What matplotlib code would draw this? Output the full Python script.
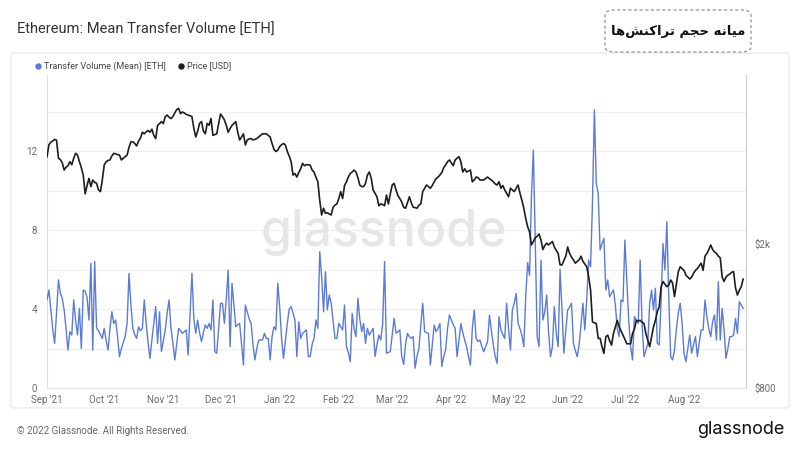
import matplotlib
matplotlib.use("Agg")
import matplotlib.pyplot as plt
from matplotlib.patches import FancyBboxPatch
from matplotlib.lines import Line2D
import pandas as pd

# ---------------- data ----------------
start_date = "2021-09-01"

transfer_volume_mean = [
    4.46, 4.96, 4.0, 3.0, 2.26, 3.8, 5.47, 4.8, 4.54, 3.95,
    3.0, 1.92, 2.85, 2.68, 4.46, 3.4, 2.68, 4.03, 2.0, 4.96,
    4.9, 4.6, 3.44, 6.31, 1.92, 6.4, 3.02, 2.9, 2.7, 2.51,
    3.02, 2.4, 1.92, 3.0, 3.86, 3.27, 3.44, 2.6, 1.59, 2.0,
    2.3, 2.6, 3.27, 5.8, 4.2, 3.02, 2.7, 2.51, 3.1, 2.9,
    3.02, 4.46, 3.27, 2.3, 1.5, 2.43, 3.3, 4.12, 2.26, 3.86,
    1.84, 2.4, 2.94, 3.8, 4.46, 3.02, 2.3, 1.42, 2.2, 3.02,
    2.9, 2.77, 2.85, 2.94, 1.67, 3.8, 5.81, 3.5, 2.77, 3.44,
    2.8, 2.35, 2.8, 3.19, 3.02, 3.27, 2.94, 4.46, 1.84, 1.76,
    3.0, 4.29, 4.29, 3.27, 4.5, 5.97, 2.09, 5.3, 4.2, 3.1,
    3.2, 3.27, 2.2, 1.16, 4.2, 3.86, 3.5, 3.27, 2.2, 1.42,
    2.0, 2.43, 2.43, 2.43, 2.77, 2.51, 2.51, 1.42, 2.6, 3.1,
    2.94, 5.3, 4.12, 2.5, 1.5, 2.4, 3.27, 4.0, 4.12, 3.8,
    3.44, 1.59, 3.36, 2.51, 2.77, 2.85, 2.94, 1.59, 1.59, 2.2,
    2.51, 3.44, 3.02, 6.9, 5.64, 3.86, 5.89, 3.95, 4.71, 4.29,
    3.4, 2.51, 2.51, 3.27, 3.1, 2.94, 4.2, 2.09, 1.8, 1.33,
    3.78, 3.0, 2.6, 4.54, 3.5, 2.85, 3.27, 2.26, 3.02, 2.68,
    2.85, 3.02, 1.59, 2.2, 2.68, 2.43, 3.27, 6.4, 1.76, 1.8,
    1.84, 2.7, 3.53, 2.77, 2.85, 2.94, 1.59, 1.2, 2.2, 2.77,
    2.6, 2.51, 2.6, 1.0, 1.6, 2.0, 3.2, 4.29, 2.85, 2.8,
    2.77, 1.16, 2.2, 3.19, 2.85, 3.0, 3.27, 1.08, 1.6, 1.92,
    3.0, 3.7, 3.44, 3.2, 3.02, 1.59, 2.4, 3.27, 2.8, 2.43,
    2.09, 1.6, 1.16, 3.0, 3.95, 2.51, 2.35, 2.43, 2.1, 1.84,
    2.1, 2.35, 3.7, 2.9, 2.18, 1.6, 1.25, 3.61, 2.94, 2.7,
    2.51, 4.29, 3.0, 1.92, 3.95, 4.3, 4.79, 3.27, 3.0, 2.68,
    2.09, 4.6, 6.35, 5.7, 9.69, 12.05, 7.49, 2.6, 2.09, 6.48,
    3.44, 3.86, 4.71, 2.8, 1.59, 2.09, 4.12, 2.77, 2.09, 6.0,
    4.0, 1.76, 2.9, 3.95, 4.1, 4.29, 2.26, 1.9, 1.59, 2.18,
    3.2, 4.29, 2.94, 4.5, 6.48, 6.14, 9.35, 14.08, 10.36, 9.86,
    6.99, 7.3, 7.58, 4.96, 5.47, 4.62, 4.8, 4.96, 4.2, 3.0,
    2.6, 4.46, 4.37, 7.49, 5.47, 3.44, 2.09, 1.42, 3.61, 3.44,
    3.27, 6.48, 3.27, 1.59, 1.9, 2.26, 4.29, 4.96, 3.95, 5.05,
    2.26, 2.18, 4.5, 7.32, 5.97, 8.42, 4.62, 1.59, 1.42, 1.92,
    3.0, 3.8, 4.29, 3.27, 1.76, 1.33, 2.0, 2.68, 1.76, 2.2,
    2.6, 1.59, 2.3, 2.94, 2.94, 4.46, 3.61, 3.0, 2.6, 3.36,
    3.7, 2.43, 5.38, 2.43, 4.03, 2.94, 1.5, 2.0, 2.6, 2.6,
    2.68, 3.53, 2.77, 4.37, 4.2, 4.03,
]

price_usd = [
    3480, 3760, 3820, 3850, 3890, 3870, 3450, 3420, 3350, 3200,
    3260, 3290, 3375, 3310, 3450, 3560, 3520, 3375, 3250, 3100,
    2750, 2900, 3035, 2880, 3004, 2960, 2940, 2820, 2790, 3004,
    3305, 3375, 3400, 3412, 3500, 3560, 3545, 3530, 3520, 3412,
    3450, 3484, 3520, 3700, 3830, 3830, 3790, 3730, 3850, 3920,
    4070, 4030, 4080, 4115, 4070, 4150, 3990, 3910, 4255, 4300,
    4355, 4300, 4495, 4540, 4480, 4440, 4495, 4600, 4700, 4740,
    4580, 4630, 4600, 4560, 4540, 4520, 4495, 4170, 3950, 4100,
    4305, 4355, 4100, 4030, 4305, 4255, 4440, 3990, 4010, 4030,
    4300, 4570, 4495, 4400, 4255, 4070, 4170, 4250, 4305, 4355,
    4070, 3875, 3950, 4030, 3753, 3875, 3900, 3910, 3875, 3890,
    3910, 3950, 3990, 4030, 4030, 4030, 3990, 3950, 3790, 3650,
    3600, 3633, 3715, 3760, 3790, 3753, 3600, 3500, 3375, 3100,
    3130, 3060, 3150, 3225, 3340, 3290, 3310, 3310, 3300, 3200,
    3160, 3060, 2970, 2640, 2405, 2510, 2430, 2440, 2420, 2405,
    2525, 2560, 2580, 2670, 2790, 2670, 2900, 2970, 3060, 3130,
    3160, 3200, 3160, 3050, 2910, 2880, 2880, 2940, 3100, 3160,
    3035, 2820, 2760, 2700, 2550, 2580, 2570, 2550, 2730, 2580,
    2750, 2910, 2940, 2820, 2720, 2670, 2610, 2525, 2510, 2600,
    2700, 2600, 2525, 2520, 2510, 2560, 2580, 2790, 2850, 2910,
    2880, 2850, 2900, 2970, 3030, 3060, 3100, 3150, 3250, 3305,
    3375, 3412, 3350, 3290, 3412, 3450, 3484, 3375, 3160, 3225,
    3160, 3180, 3200, 2970, 3004, 3060, 3050, 3004, 3004, 3004,
    3035, 3060, 3030, 3004, 2970, 2930, 2910, 2970, 2850, 2900,
    2820, 2760, 2700, 2850, 2820, 2790, 2850, 2910, 2760, 2640,
    2510, 2355, 2232, 2160, 1987, 2030, 2080, 2100, 2130, 2050,
    1930, 1980, 2010, 1987, 2010, 2030, 1962, 1920, 1883, 1750,
    1750, 1800, 1850, 1962, 1883, 1840, 1807, 1770, 1790, 1807,
    1850, 1790, 1760, 1730, 1624, 1492, 1219, 1210, 1206, 1097,
    1097, 1040, 997, 1108, 1120, 1080, 1051, 1131, 1180, 1230,
    1180, 1150, 1120, 1090, 1060, 1060, 1060, 1131, 1164, 1230,
    1225, 1230, 1215, 1206, 1131, 1085, 1040, 1108, 1180, 1230,
    1300, 1340, 1524, 1575, 1550, 1524, 1540, 1590, 1560, 1430,
    1550, 1677, 1730, 1710, 1690, 1640, 1620, 1600, 1620, 1660,
    1690, 1710, 1740, 1770, 1690, 1850, 1883, 1930, 1987, 1930,
    1900, 1883, 1850, 1830, 1620, 1575, 1620, 1640, 1650, 1670,
    1677, 1512, 1445, 1490, 1524, 1600,
]

month_ticks = ["2021-09-01", "2021-10-01", "2021-11-01", "2021-12-01",
               "2022-01-01", "2022-02-01", "2022-03-01", "2022-04-01",
               "2022-05-01", "2022-06-01", "2022-07-01", "2022-08-01"]
month_labels = ["Sep '21", "Oct '21", "Nov '21", "Dec '21", "Jan '22", "Feb '22",
                "Mar '22", "Apr '22", "May '22", "Jun '22", "Jul '22", "Aug '22"]
left_ticks = [0, 2, 4, 6, 8, 10, 12, 14]
left_labels = ["0", "", "4", "", "8", "", "12", ""]
right_ticks = [800, 2000]
right_labels = ["$800", "$2k"]

title = "Ethereum: Mean Transfer Volume [ETH]"
legend_labels = ["Transfer Volume (Mean) [ETH]", "Price [USD]"]
# "میانه حجم تراکنش‌ها" written with pre-shaped Arabic presentation forms, in visual order
persian_title = ("\uFE8E\uFEEB\uFEB6\uFEE8\uFEDB\uFE8D\uFEAE\uFE97 "
                 "\uFEE2\uFEA0\uFEA3 "
                 "\uFEEA\uFEE7\uFE8E\uFEF4\uFEE3")

# ---------------- style ----------------
BLUE = "#5b7bd6"
BLACK = "#1e1e1e"
GRAY = "#6b6b6b"
plt.rcParams["font.family"] = ["Roboto", "DejaVu Sans"]

W, H = 800, 450
fig = plt.figure(figsize=(8, 4.5), dpi=100)
fig.patch.set_facecolor("white")

def fx(px):
    return px / W

def fy(py):
    return 1 - py / H

# outer panel
panel = FancyBboxPatch((fx(11), fy(408)), fx(778), (408 - 53) / H,
                       boxstyle="round,pad=0,rounding_size=0.004",
                       transform=fig.transFigure, facecolor="none",
                       edgecolor="#e6e6e6", linewidth=0.8, zorder=0)
fig.add_artist(panel)

left, right, top, bottom = 47, 746, 75, 388
ax = fig.add_axes([fx(left), fy(bottom), (right - left) / W, (bottom - top) / H])
ax.set_facecolor("none")

dates = pd.date_range(start_date, periods=len(transfer_volume_mean), freq="D")
x0 = pd.Timestamp(start_date)
ax.set_xlim(x0, x0 + pd.Timedelta(days=366.5))

# watermark
fig.text(fx(384), fy(233), "glassnode", fontsize=36, color="#e6e6e6",
         ha="center", va="center", family=["Inter", "Roboto", "DejaVu Sans"],
         fontweight="medium", zorder=0.5)

ax.plot(dates, transfer_volume_mean, color=BLUE, linewidth=1.0, zorder=3)
ax.set_ylim(0, (bottom - top) / 19.75)
ax.set_yticks(left_ticks)
ax.set_yticklabels(left_labels)
ax.yaxis.grid(True, color="#efefef", linewidth=0.8)
ax.set_axisbelow(True)
ax.tick_params(axis="y", length=0, pad=7, labelsize=7, labelcolor=GRAY)

ax.set_xticks(pd.to_datetime(month_ticks))
ax.set_xticklabels(month_labels)
ax.tick_params(axis="x", length=0, pad=5, labelsize=7, labelcolor=GRAY)

ax.spines["top"].set_visible(False)
ax.spines["left"].set_color("#d8def0")
ax.spines["bottom"].set_color("#e2e2e2")
ax.spines["right"].set_color("#d0d0d0")
for s in ax.spines.values():
    s.set_linewidth(0.8)

ax2 = ax.twinx()
ax2.set_yscale("log")
ax2.plot(dates, price_usd, color=BLACK, linewidth=1.2, zorder=4)
ax2.set_ylim(800, 800 * 10 ** ((bottom - top) / 362))
ax2.set_yticks(right_ticks)
ax2.set_yticklabels(right_labels)
ax2.yaxis.set_minor_locator(matplotlib.ticker.NullLocator())
ax2.tick_params(axis="y", length=0, pad=6, labelsize=7, labelcolor=GRAY)
ax2.spines["top"].set_visible(False)
ax2.spines["left"].set_visible(False)
ax2.spines["bottom"].set_visible(False)
ax2.spines["right"].set_color("#d0d0d0")
ax2.spines["right"].set_linewidth(0.8)

# title
fig.text(fx(17), fy(30), title, fontsize=10.5, color="#333333", ha="left", va="center")

# legend
fig.add_artist(Line2D([fx(38)], [fy(66)], marker="o", markersize=3.6, color=BLUE,
                      linestyle="none", transform=fig.transFigure))
fig.text(fx(44), fy(66), legend_labels[0], fontsize=6.5, color="#444444", ha="left", va="center")
fig.add_artist(Line2D([fx(181)], [fy(66)], marker="o", markersize=3.6, color=BLACK,
                      linestyle="none", transform=fig.transFigure))
fig.text(fx(187), fy(66), legend_labels[1], fontsize=6.5, color="#444444", ha="left", va="center")

# persian box
pbox = FancyBboxPatch((fx(605), fy(52)), fx(146), 42 / H,
                      boxstyle="round,pad=0,rounding_size=0.012",
                      transform=fig.transFigure, facecolor="white",
                      edgecolor="#8a96a0", linewidth=0.9, linestyle=(0, (2.5, 2)))
fig.add_artist(pbox)
fig.text(fx(678), fy(31), persian_title, fontsize=9.5, fontweight="bold", color="#111111",
         ha="center", va="center", family=["DejaVu Sans"])

# footer
fig.text(fx(17), fy(431), "\u00a9 2022 Glassnode. All Rights Reserved.", fontsize=7,
         color="#666666", ha="left", va="center")
fig.text(fx(785), fy(430), "glassnode", fontsize=13, color="#111111", ha="right",
         va="center", family=["Inter", "Roboto", "DejaVu Sans"])

fig.savefig("out.png", dpi=100, facecolor="white")
